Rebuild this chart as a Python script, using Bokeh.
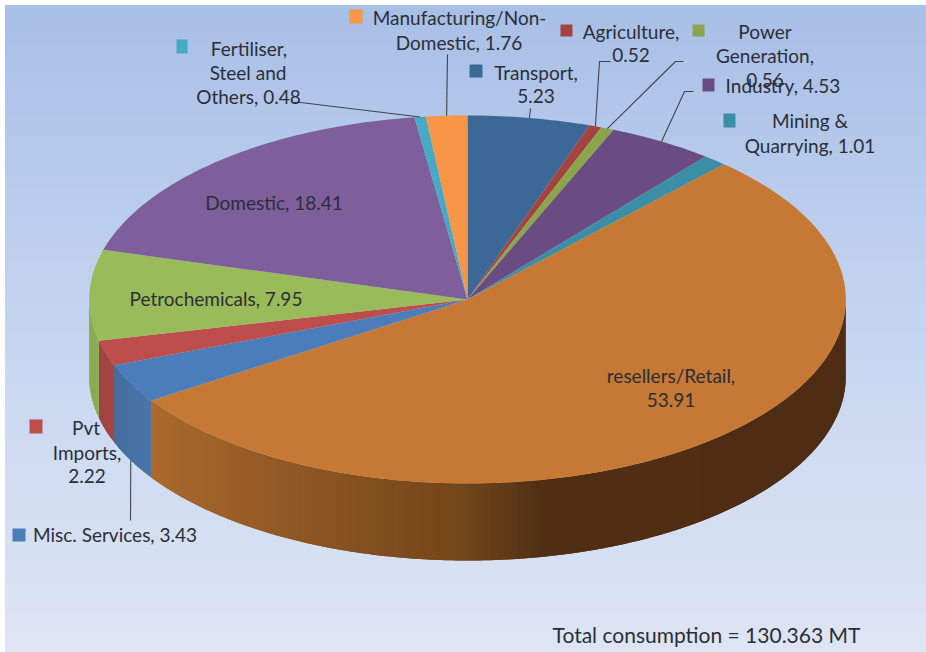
import numpy as np
from bokeh.plotting import figure
from bokeh.models import Range1d
from bokeh.core.properties import value
from bokeh.embed import file_html
from bokeh.resources import INLINE

categories = ["Transport", "Agriculture", "Power Generation", "Industry", "Mining & Quarrying",
              "resellers/Retail", "Misc. Services", "Pvt Imports", "Petrochemicals", "Domestic",
              "Fertiliser, Steel and Others", "Manufacturing/Non-Domestic"]
shares = [5.23, 0.52, 0.56, 4.53, 1.01, 53.91, 3.43, 2.22, 7.95, 18.41, 0.48, 1.76]
top_colors = ["#3c6898", "#a5443f", "#8aa54a", "#6a4c82", "#3a8ea6", "#c67835",
              "#4a7dba", "#bd4e4b", "#9abb59", "#7e5f9c", "#46aac4", "#f79646"]
total_note = "Total consumption = 130.363 MT"

# page-pixel scale of the photograph
CX, CY, RX, RY, DEPTH = 467.0, 299.0, 378.3, 184.0, 77.0
W, H = 926, 652
p = figure(width=W, height=H, x_range=Range1d(0, W), y_range=Range1d(H, 0),
           output_backend="svg", toolbar_location=None, min_border=0)
p.axis.visible = False
p.grid.visible = False
p.outline_line_color = None


def hex2rgb(h):
    return np.array([int(h[i:i + 2], 16) for i in (1, 3, 5)], float)


def rgb2hex(c):
    return "#%02x%02x%02x" % tuple(int(round(v)) for v in c)


def ramp(t, ts, cols):
    arr = np.array([hex2rgb(c) for c in cols])
    return rgb2hex([np.interp(t, ts, arr[:, k]) for k in range(3)])


# backdrop gradient
edges = np.arange(5, H + 4, 4)
bg = [ramp(y, [5, 326, 652], ["#a8bfe6", "#c5d5f0", "#dee5f4"]) for y in edges[:-1]]
p.quad(left=5, right=W, top=edges[:-1], bottom=edges[1:], fill_color=bg, line_color=bg, line_width=1)

# slice angles, clockwise from 12 o'clock
vals = np.array(shares)
cum = np.concatenate([[0], np.cumsum(vals)]) / vals.sum() * 2 * np.pi
mids = (cum[:-1] + cum[1:]) / 2


def ex(t):
    return CX + RX * np.sin(t)


def ey(t):
    return CY - RY * np.cos(t)


# side wall: overlapping strips so the shading can run along the rim without seams
wall_ramps = {
    5: ([151, 267, 463, 545, 850], ["#ab6a2b", "#935a26", "#734518", "#4f2e14", "#4e2d14"]),
    6: ([114, 151], ["#436d9e", "#4876ab"]),
    7: ([100, 114], ["#a04442", "#a54644"]),
    8: ([89, 100], ["#8aaa50", "#8eae52"]),
}
wx, wy, wc = [], [], []
for i, (ts, cols) in wall_ramps.items():
    a0 = max(cum[i], np.pi / 2)
    a1 = min(cum[i + 1], 3 * np.pi / 2)
    n = max(2, int((a1 - a0) / np.radians(1.0)))
    grid = np.linspace(a0, a1, n + 1)
    step = grid[1] - grid[0]
    for a, b in zip(grid[:-1], grid[1:]):
        t = np.linspace(a, min(b + step, a1), 4)
        wx.append(list(ex(t)) + list(ex(t[::-1])))
        wy.append(list(ey(t)) + list(ey(t[::-1]) + DEPTH))
        wc.append(ramp(ex((a + b) / 2), ts, cols))
p.patches(wx, wy, fill_color=wc, line_color=None)

# top face
tx, ty = [], []
for a, b in zip(cum[:-1], cum[1:]):
    t = np.linspace(a, b, max(3, int((b - a) / np.radians(1.0)) + 2))
    tx.append([CX] + list(ex(t)))
    ty.append([CY] + list(ey(t)))
p.patches(tx, ty, fill_color=top_colors, line_color=None)

# leader lines, ending on the rim at each slice's middle angle
leaders = [
    (10, [(292, 102), (300, 102)], 0),
    (11, [(447, 54)], 0),
    (0, [(530, 108)], 0),
    (1, [(610, 61), (599, 61)], 0),
    (2, [(683, 61), (675, 61)], 0),
    (3, [(693, 91), (684, 91)], 0),
    (6, [(130, 520)], DEPTH),
]
for i, pts, d in leaders:
    xs = [q[0] for q in pts] + [ex(mids[i])]
    ys = [q[1] for q in pts] + [ey(mids[i]) + d]
    p.line(xs, ys, line_color="#3f4550", line_width=1.1)

# labels: one row per text line
lab = [
    ("Manufacturing/Non-", 459, 16.5), ("Domestic, 1.76", 458.5, 41.5),
    ("Agriculture,", 630.5, 30.5), ("0.52", 630.5, 54.5),
    ("Power", 764.5, 30.5), ("Generation,", 764.5, 54.5), ("0.56", 764.5, 79.5),
    ("Transport,", 535.5, 71.5), ("5.23", 535.5, 95.5),
    ("Industry, 4.53", 782.5, 84.5),
    ("Mining &", 809.5, 119.5), ("Quarrying, 1.01", 809.5, 144.5),
    ("Fertiliser,", 248.5, 47.5), ("Steel and", 247.5, 71.5), ("Others, 0.48", 248, 95.5),
    ("Domestic, 18.41", 273.5, 201.5),
    ("Petrochemicals, 7.95", 215.5, 297.5),
    ("resellers/Retail,", 670.5, 374.5), ("53.91", 670.5, 399.5),
    ("Pvt", 85.5, 426.5), ("Imports,", 86.5, 451.5), ("2.22", 86.5, 475.5),
    ("Misc. Services, 3.43", 114.5, 533.5),
]
p.text([q[1] for q in lab], [q[2] for q in lab], text=[q[0] for q in lab],
       text_font=value("Lato"), text_font_size="19px", text_color="#2b2e38",
       text_align="center", text_baseline="middle")
p.text([706], [634], text=[total_note], text_font=value("Lato"), text_font_size="21px",
       text_color="#2b2e38", text_align="center", text_baseline="middle")

# legend keys beside the labels, by slice index
keys = [(11, 349, 362, 9, 23), (1, 560, 572, 24, 36), (2, 692, 704, 24, 36), (0, 469, 482, 64, 77),
        (3, 702, 714, 78, 91), (4, 723, 735, 113, 127), (10, 176, 187, 39, 53),
        (7, 29, 42, 419, 433), (6, 12, 25, 528, 541)]
p.quad(left=[k[1] for k in keys], right=[k[2] for k in keys], top=[k[3] for k in keys],
       bottom=[k[4] for k in keys], fill_color=[top_colors[k[0]] for k in keys], line_color=None)

open("out.html", "w").write(file_html(p, INLINE))
